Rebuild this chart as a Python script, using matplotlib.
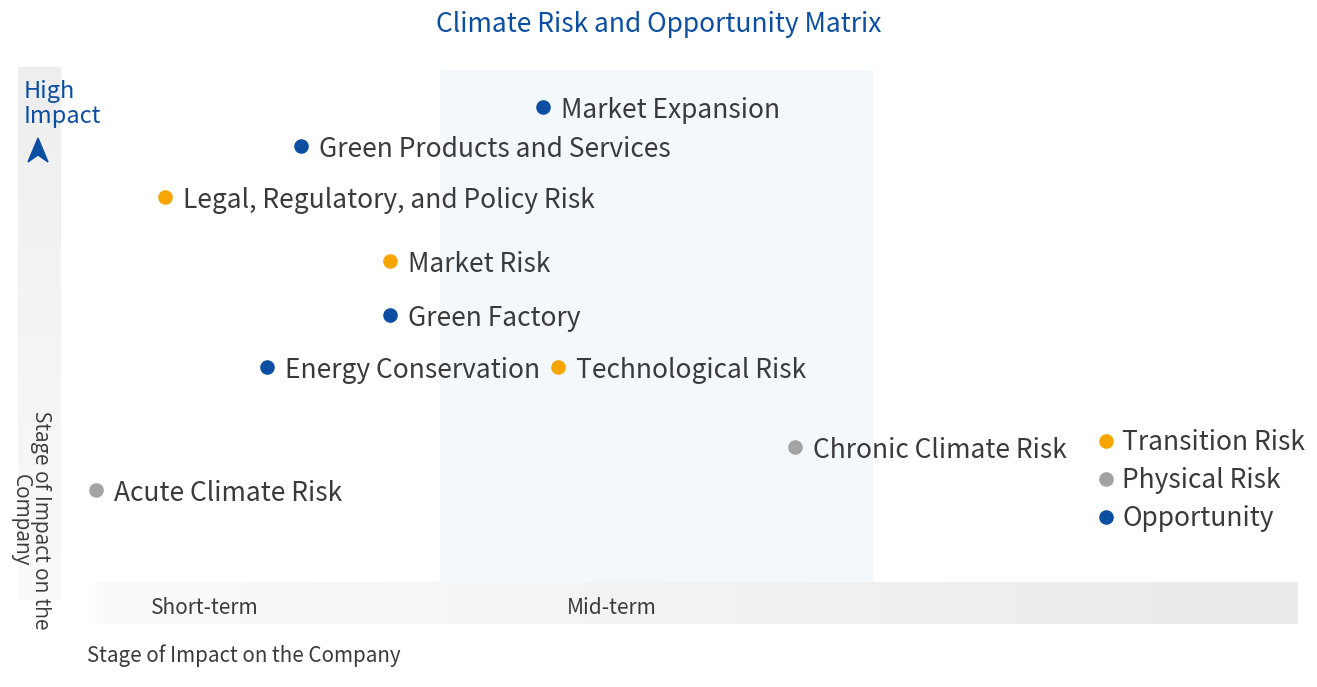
import matplotlib.pyplot as plt
import numpy as np
from matplotlib.lines import Line2D
from matplotlib.patches import Polygon
from matplotlib.colors import LinearSegmentedColormap

plt.rcParams['font.family'] = ['Noto Sans CJK SC', 'DejaVu Sans']

# data: horizon score (x), impact score (y), category
labels = ["Market Expansion", "Green Products and Services",
          "Legal, Regulatory, and Policy Risk", "Market Risk", "Green Factory",
          "Energy Conservation", "Technological Risk", "Chronic Climate Risk",
          "Acute Climate Risk"]
horizon = [3.72, 1.71, 0.58, 2.45, 2.45, 1.43, 3.85, 5.82, 0.01]
impact = [9.28, 8.52, 7.52, 6.27, 5.21, 4.20, 4.20, 2.64, 1.80]
category = ["Opportunity", "Opportunity", "Transition Risk", "Transition Risk",
            "Opportunity", "Opportunity", "Transition Risk", "Physical Risk",
            "Physical Risk"]
legend_names = ["Transition Risk", "Physical Risk", "Opportunity"]
colors = {"Transition Risk": "#F7A600", "Physical Risk": "#A3A3A3",
          "Opportunity": "#0B4EA2"}
mid_zone = (2.87, 6.46)
tick_pos = [0.91, 4.30]
tick_names = ["Short-term", "Mid-term"]

TXT = "#3a3a3a"
BLUE = "#0B4EA2"
W, H = 1317, 687

fig = plt.figure(figsize=(13.17, 6.87), dpi=100)
ax = fig.add_axes([95/W, 1 - 582/H, 1203/W, 512/H])
for s in ax.spines.values():
    s.set_visible(False)
ax.set_yticks([])

# mid-term zone
ax.axvspan(mid_zone[0], mid_zone[1], color="#F3F8FD", zorder=0)

# bottom gradient bar
grad_h = np.linspace(0, 1, 256).reshape(1, -1)
ax.imshow(grad_h, cmap=LinearSegmentedColormap.from_list("g1", ["#FBFBFB", "#EAEAEA"]),
          aspect="auto", extent=(0, 1, -0.082, 0), transform=ax.transAxes,
          clip_on=False, zorder=0)
# left gradient bar
grad_v = np.linspace(0, 1, 256).reshape(-1, 1)
ax.imshow(grad_v, cmap=LinearSegmentedColormap.from_list("g2", ["#FAFAFA", "#EEEEEE"]),
          aspect="auto", origin="lower", extent=(-0.064, -0.029, -0.035, 1.006),
          transform=ax.transAxes, clip_on=False, zorder=0)
ax.set_xlim(0, 10)
ax.set_ylim(0, 10)

for name, x, y, c in zip(labels, horizon, impact, category):
    ax.scatter(x, y, s=90, color=colors[c], zorder=3, clip_on=False)
    ax.annotate(name, (x, y), xytext=(13, -2.5), textcoords="offset points",
                va="center", ha="left", fontsize=19, color=TXT)

handles = [Line2D([], [], marker="o", ls="", markersize=9.5, color=colors[n])
           for n in legend_names]
ax.legend(handles, legend_names, loc="upper left",
          bbox_to_anchor=((1093 - 95) / 1203, (582 - 429) / 512),
          frameon=False, fontsize=19, labelcolor=TXT, handletextpad=0.1,
          labelspacing=0.42, borderpad=0, handlelength=1.0, borderaxespad=0)

ax.set_xticks(tick_pos)
ax.set_xticklabels(tick_names, fontsize=15, color=TXT)
ax.tick_params(axis="x", length=0, pad=11)

fig.text(0.5, 1 - 25/H, "Climate Risk and Opportunity Matrix", ha="center",
         va="center", fontsize=19, color=BLUE)
fig.text(87/W, 1 - 656/H, "Stage of Impact on the Company", ha="left",
         va="center", fontsize=14.8, color=TXT)
fig.text(30/W, 1 - 520/H, "Stage of Impact on the\nCompany", rotation=270,
         ha="center", va="center", fontsize=15, color=TXT,
         family=["Open Sans", "DejaVu Sans"], linespacing=0.95)
fig.text(24/W, 1 - 104/H, "High\nImpact", ha="left", va="center",
         fontsize=17, color=BLUE, linespacing=1.15)

# upward arrow head under "High Impact"
arrow_px = [(38, 138), (48, 162), (38, 155), (28, 162)]
fig.patches.append(Polygon([(px / W, 1 - py / H) for px, py in arrow_px],
                           closed=True, color=BLUE, transform=fig.transFigure))

fig.savefig("out.png", dpi=100)
